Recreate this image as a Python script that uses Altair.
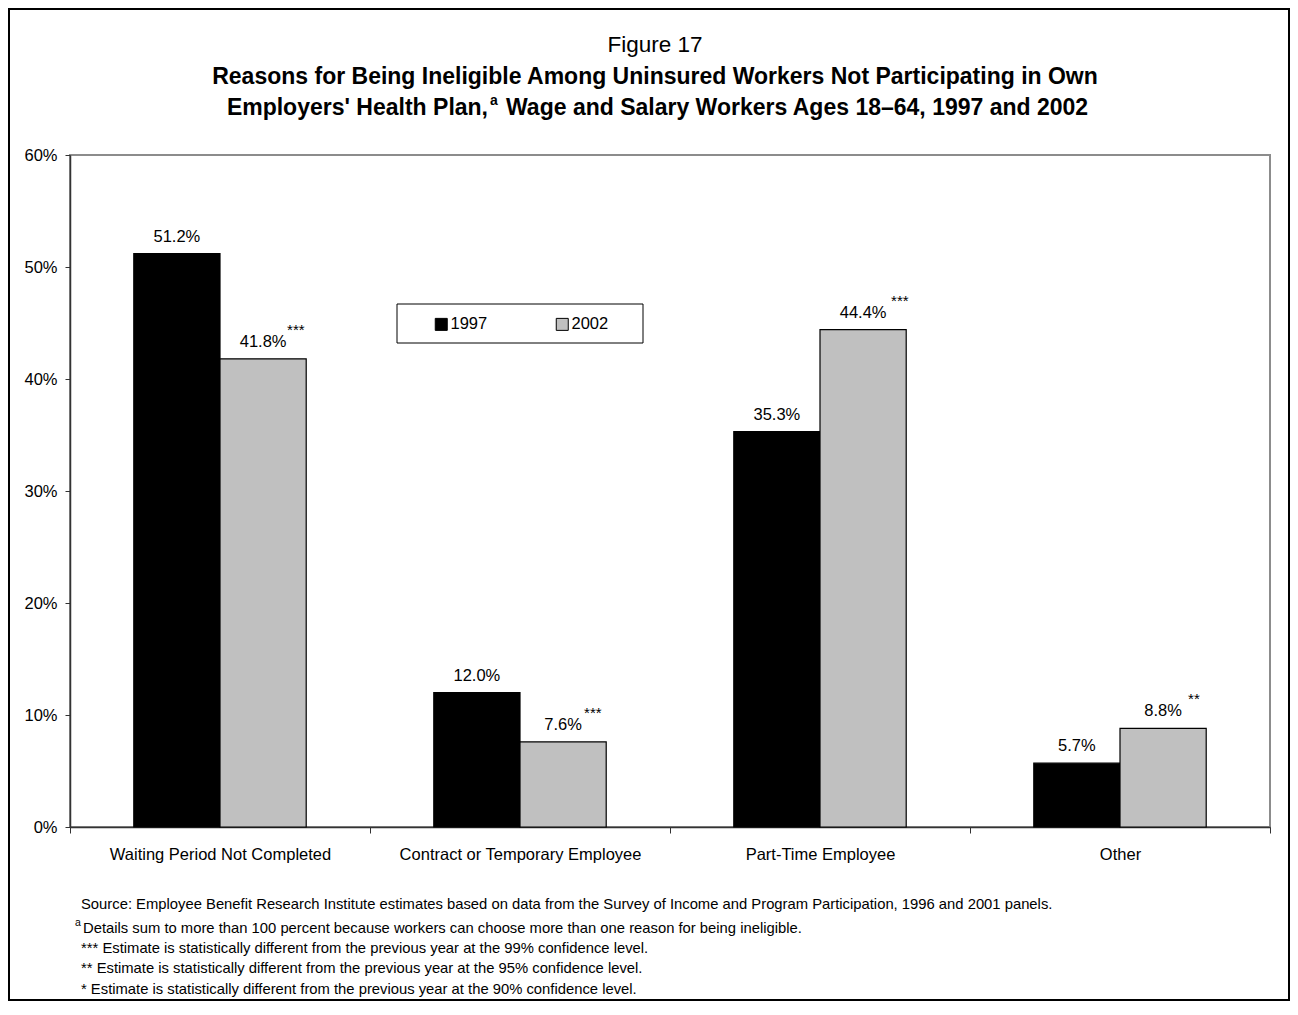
import altair as alt
import pandas as pd

categories = ["Waiting Period Not Completed", "Contract or Temporary Employee",
              "Part-Time Employee", "Other"]
years = ["1997", "2002"]
values_1997 = [51.2, 12.0, 35.3, 5.7]
values_2002 = [41.8, 7.6, 44.4, 8.8]
stars_2002 = ["***", "***", "***", "**"]
y_ticks = [0, 10, 20, 30, 40, 50, 60]

title_top = "Figure 17"
title_line1 = "Reasons for Being Ineligible Among Uninsured Workers Not Participating in Own"
title_line2a = "Employers' Health Plan,"
title_line2b = "Wage and Salary Workers Ages 18\u201364, 1997 and 2002"
footnotes = [
    "Source: Employee Benefit Research Institute estimates based on data from the Survey of Income and Program Participation, 1996 and 2001 panels.",
    "Details sum to more than 100 percent because workers can choose more than one reason for being ineligible.",
    "*** Estimate is statistically different from the previous year at the 99% confidence level.",
    "** Estimate is statistically different from the previous year at the 95% confidence level.",
    "* Estimate is statistically different from the previous year at the 90% confidence level.",
]

rows = []
for i, c in enumerate(categories):
    rows.append({"Reason": c, "Year": "1997", "Value": values_1997[i],
                 "Label": f"{values_1997[i]:.1f}%", "Stars": ""})
    rows.append({"Reason": c, "Year": "2002", "Value": values_2002[i],
                 "Label": f"{values_2002[i]:.1f}%", "Stars": stars_2002[i]})
df = pd.DataFrame(rows)

FONT = "Liberation Sans"
W, H = 1200, 672

x_enc = alt.X("Reason:N", sort=categories,
              scale=alt.Scale(paddingInner=0, paddingOuter=0),
              axis=alt.Axis(title=None, labelAngle=0, labelFontSize=16.5, labelColor="black",
                            tickBand="extent", tickSize=6, labelPadding=13,
                            domainColor="#333333", tickColor="#333333", domainWidth=1.5,
                            labelLimit=400))
xo_enc = alt.XOffset("Year:N", sort=years,
                     scale=alt.Scale(paddingOuter=0.74, paddingInner=0))
y_enc = alt.Y("Value:Q", scale=alt.Scale(domain=[0, 60], nice=False),
              axis=alt.Axis(title=None, values=y_ticks, labelExpr="datum.value + '%'",
                            grid=False, tickSize=5, labelPadding=8, labelFontSize=16.5,
                            labelColor="black", domainColor="#333333", tickColor="#333333",
                            domainWidth=1.5))

base = alt.Chart(df)

one = pd.DataFrame({"k": [0]})

frame = alt.Chart(one).mark_rect(fill=None, stroke="black", strokeWidth=2).encode(
    x=alt.value(-61), x2=alt.value(1219), y=alt.value(-146), y2=alt.value(845))

legend_box = alt.Chart(one).mark_rect(fill="white", stroke="black", strokeWidth=1).encode(
    x=alt.value(327), x2=alt.value(573), y=alt.value(149), y2=alt.value(188))

bars = base.mark_bar(stroke="black", strokeWidth=1.2).encode(
    x=x_enc, xOffset=xo_enc, y=y_enc,
    color=alt.Color("Year:N", sort=years,
                    scale=alt.Scale(domain=years, range=["#000000", "#c0c0c0"]),
                    legend=alt.Legend(title=None, orient="none", legendX=363, legendY=161,
                                      direction="horizontal", symbolType="square",
                                      symbolSize=144, symbolStrokeColor="black",
                                      symbolStrokeWidth=1, labelFontSize=16.5,
                                      labelColor="black", labelOffset=1, columnPadding=66,
                                      padding=0)))

labels = base.mark_text(fontSize=16.5, baseline="alphabetic", dy=-12, color="black").encode(
    x=x_enc, xOffset=xo_enc, y=y_enc, text="Label:N")

star_dx = [24, 21, 28, 25]
star_layers = []
for i, c in enumerate(categories):
    star_layers.append(
        base.transform_filter((alt.datum.Reason == c) & (alt.datum.Year == "2002"))
        .mark_text(fontSize=15, baseline="alphabetic", align="left", dx=star_dx[i], dy=-24,
                   color="black")
        .encode(x=x_enc, xOffset=xo_enc, y=y_enc, text="Stars:N"))

def txt(s, x, y, size, weight="normal", align="center"):
    return alt.Chart(pd.DataFrame({"t": [s]})).mark_text(
        fontSize=size, fontWeight=weight, align=align, baseline="alphabetic",
        color="black").encode(x=alt.value(x), y=alt.value(y), text="t:N")

titles = [
    txt(title_top, 585, -103, 22.5),
    txt(title_line1, 585, -71.5, 23, "bold"),
    txt(title_line2a, 418, -40, 23, "bold", "right"),
    txt("a", 420, -50, 14, "bold", "left"),
    txt(title_line2b, 436, -40, 23, "bold", "left"),
]

foot_y = [905, 929, 949, 969, 990]
notes = []
for i, s in enumerate(footnotes):
    xx = 11 if i != 1 else 13
    notes.append(
        alt.Chart(pd.DataFrame({"t": [s]})).mark_text(
            fontSize=14.8, align="left", baseline="middle", color="black").encode(
            x=alt.value(xx), y=alt.value(foot_y[i] - 155), text="t:N"))
notes.append(
    alt.Chart(pd.DataFrame({"t": ["a"]})).mark_text(
        fontSize=10.5, align="left", baseline="middle", color="black").encode(
        x=alt.value(5), y=alt.value(929 - 155 - 6), text="t:N"))

chart = alt.layer(frame, legend_box, bars, labels, *star_layers, *titles, *notes).properties(
    width=W, height=H,
    padding={"left": 62, "top": 147, "right": 20, "bottom": 175},
    autosize=alt.AutoSizeParams(type="none"),
).configure(font=FONT).configure_view(stroke="#8c8c8c", strokeWidth=2)

chart.save("out.html", embed_options={"renderer": "svg", "actions": False})
